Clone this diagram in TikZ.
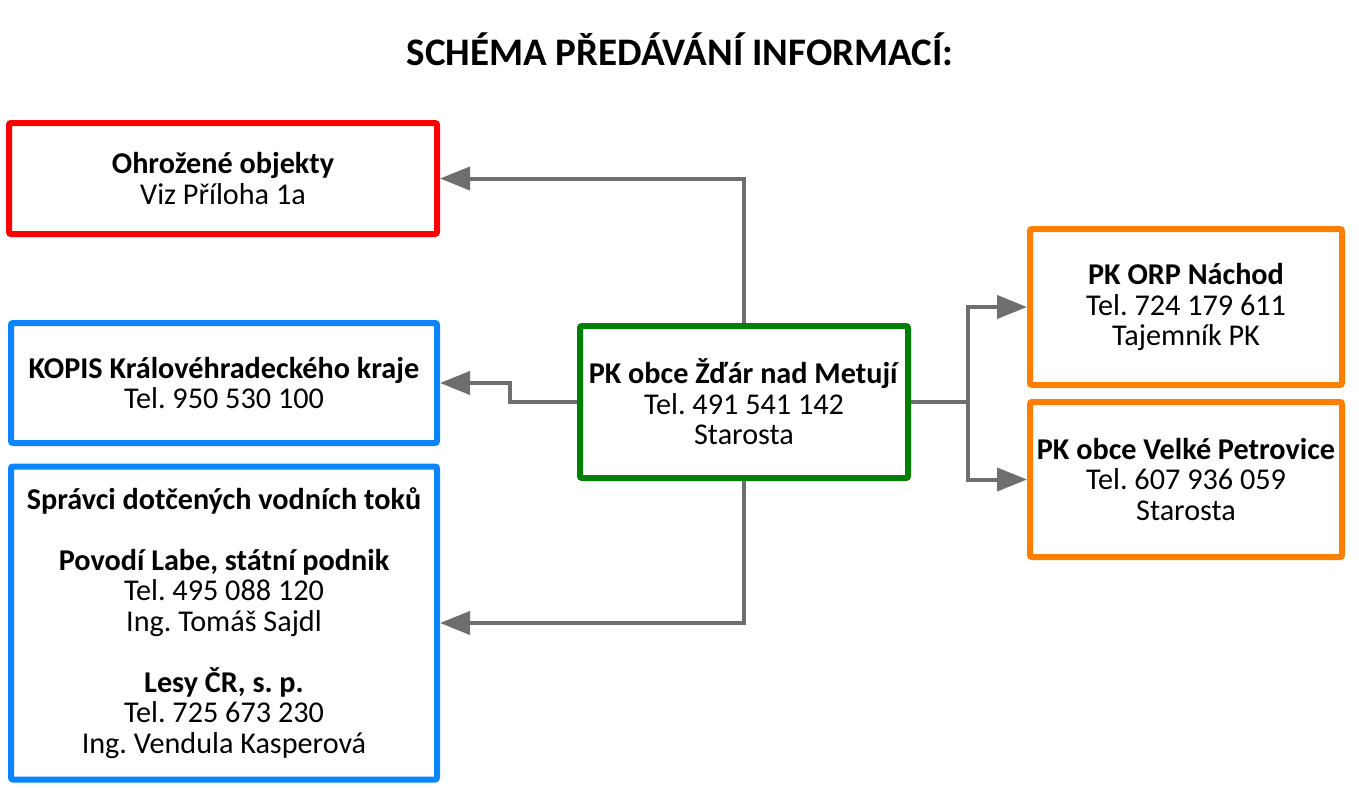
\documentclass[tikz,border=0pt]{standalone}
\usepackage{fontspec}
\setmainfont{Carlito}
\usepackage{tikz}
\usetikzlibrary{arrows.meta,positioning}
\frenchspacing

\definecolor{boxred}{HTML}{FF0000}
\definecolor{boxblue}{HTML}{0A84FF}
\definecolor{boxgreen}{HTML}{008000}
\definecolor{boxorange}{HTML}{FF8000}
\definecolor{linkgray}{HTML}{6E6E6E}

\begin{document}
\begin{tikzpicture}[
    x=1pt, y=-1pt,
    font=\fontsize{30.2}{30.5}\selectfont,
    unit/.style={draw, line width=6pt, rounded corners=2pt, align=center, inner sep=0pt},
    link/.style={linkgray, line width=4pt, -{Triangle[length=30pt, width=23pt]}}
  ]

  \useasboundingbox (0,0) rectangle (1359,787);

  % --- Title ---
  \node[font=\fontsize{39}{42}\selectfont\bfseries] (title) at (680,49) {SCHÉMA PŘEDÁVÁNÍ INFORMACÍ:};

  % --- Left side ---
  \node[unit, boxred, minimum width=428, minimum height=111] (ohro) at (223,178.5)
    {\color{black}\textbf{Ohrožené objekty}\\\color{black}Viz Příloha 1a};
  \node[unit, boxblue, minimum width=426, minimum height=120] (kopis) at (224,383)
    {\color{black}\textbf{KOPIS Královéhradeckého kraje}\\\color{black}Tel. 950 530 100};
  \node[unit, boxblue, minimum width=426, minimum height=313] (spravci) at (224,623)
    {\color{black}\textbf{Správci dotčených vodních toků}\\[30.5pt]
     \color{black}\textbf{Povodí Labe, státní podnik}\\\color{black}Tel. 495 088 120\\\color{black}Ing. Tomáš Sajdl\\[30.5pt]
     \color{black}\textbf{Lesy ČR, s. p.}\\\color{black}Tel. 725 673 230\\\color{black}Ing. Vendula Kasperová};

  % --- Centre ---
  \node[unit, boxgreen, minimum width=328, minimum height=152] (pk) at (744,402)
    {\color{black}\textbf{PK obce Žďár nad Metují}\\\color{black}Tel. 491 541 142\\\color{black}Starosta};

  % --- Right side ---
  \node[unit, boxorange, minimum width=312, minimum height=156] (orp) at (1186,307)
    {\color{black}\textbf{PK ORP Náchod}\\\color{black}Tel. 724 179 611\\\color{black}Tajemník PK};
  \node[unit, boxorange, minimum width=312, minimum height=155] (velke) at (1186,479.5)
    {\color{black}\textbf{PK obce Velké Petrovice}\\\color{black}Tel. 607 936 059\\\color{black}Starosta};

  % --- Connections ---
  \draw[link] (pk.north) |- (ohro.east);
  \draw[link] (pk.west) -- ++(-67,0) |- (kopis.east);
  \draw[link] (pk.south) |- (spravci.east);
  \draw[linkgray, line width=4pt] (pk.east) -- ++(57,0) coordinate (split);
  \draw[link] (split) |- (orp.west);
  \draw[link] (split) |- (velke.west);

\end{tikzpicture}
\end{document}
